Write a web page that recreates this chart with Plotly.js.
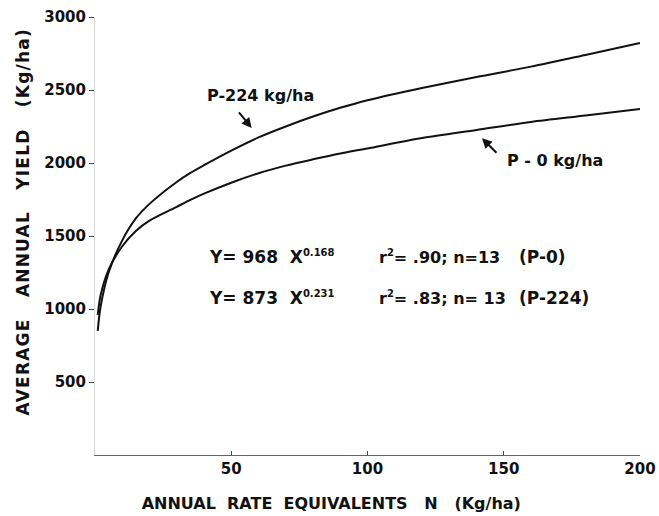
<!DOCTYPE html>
<html>
<head>
<meta charset="utf-8">
<script src="https://cdn.plot.ly/plotly-3.0.1.min.js"></script>
<style>
html,body{margin:0;padding:0;background:#fff;}
#chart{width:659px;height:516px;}
.g-ytitle text{letter-spacing:1.2px;}
</style>
</head>
<body>
<div id="chart"></div>
<script>
// N rate (kg/ha)
const nRate = [1, 2, 5, 10, 15, 20, 30, 35, 40, 50, 60, 70, 80, 90, 100, 120, 140, 160, 180, 200];
// Yield, P-0 kg/ha
const yieldP0 = [960, 1090, 1270, 1430, 1535, 1605, 1700, 1747, 1790, 1865, 1930, 1982, 2025, 2065, 2100, 2171, 2226, 2281, 2325, 2370];
// Yield, P-224 kg/ha
const yieldP224 = [850, 1010, 1250, 1470, 1620, 1720, 1870, 1932, 1985, 2085, 2175, 2250, 2318, 2378, 2430, 2514, 2589, 2660, 2740, 2822];

const xTicks = [50, 100, 150, 200];
const yTicks = [500, 1000, 1500, 2000, 2500, 3000];

const font = "'DejaVu Sans', 'Liberation Sans', Arial, sans-serif";
const ink = '#111';
const sp = n => '&nbsp;'.repeat(n);
const sup = t => '<sup><span style="font-size:10px">' + t + '</span></sup>';

const traces = [
  {x: nRate, y: yieldP224, mode: 'lines', name: 'P-224 kg/ha', line: {color: ink, width: 2, shape: 'spline', smoothing: 0.8}, hoverinfo: 'skip'},
  {x: nRate, y: yieldP0, mode: 'lines', name: 'P-0 kg/ha', line: {color: ink, width: 2, shape: 'spline', smoothing: 0.8}, hoverinfo: 'skip'}
];

const lf = {family: font, size: 16, color: ink, weight: 'bold'};
const ef = {family: font, size: 17, color: ink, weight: 'bold'};
const ef2 = {family: font, size: 16, color: ink, weight: 'bold'};

const layout = {
  width: 659, height: 516,
  margin: {l: 95, r: 19, t: 17, b: 61},
  paper_bgcolor: '#fff', plot_bgcolor: '#fff',
  showlegend: false,
  font: {family: font, color: ink},
  xaxis: {
    range: [0, 200], tickvals: xTicks, ticktext: xTicks.map(String),
    ticks: 'inside', ticklen: 4, tickcolor: '#444', tickwidth: 1,
    showline: true, linecolor: '#666', linewidth: 1,
    showgrid: false, zeroline: false,
    tickfont: {family: font, size: 15, color: ink, weight: 'bold'},
    title: {text: 'ANNUAL' + sp(2) + 'RATE' + sp(2) + 'EQUIVALENTS' + sp(3) + 'N' + sp(3) + '(Kg/ha)' + sp(13), font: {family: font, size: 16, color: ink, weight: 'bold'}, standoff: 20}
  },
  yaxis: {
    range: [0, 3000], tickvals: yTicks, ticktext: yTicks.map(String),
    ticks: 'outside', ticklen: 5, tickcolor: '#444', tickwidth: 1,
    showline: true, linecolor: '#d8d8d8', linewidth: 1,
    showgrid: false, zeroline: false,
    tickfont: {family: font, size: 15, color: ink, weight: 'bold'},
    title: {text: sp(4) + 'AVERAGE' + sp(3) + 'ANNUAL' + sp(3) + 'YIELD' + sp(3) + '(Kg/ha)', font: {family: font, size: 17, color: ink, weight: 'bold'}, standoff: 10}
  },
  annotations: [
    {x: 60.9, y: 2459, xref: 'x', yref: 'y', text: 'P-224 kg/ha', showarrow: false, font: lf},
    {x: 57.5, y: 2240, xref: 'x', yref: 'y', text: '', showarrow: true, arrowhead: 2, arrowsize: 1, arrowwidth: 2, arrowcolor: ink, ax: -14, ay: -17},
    {x: 168.8, y: 2020, xref: 'x', yref: 'y', text: 'P - 0 kg/ha', showarrow: false, font: lf},
    {x: 142, y: 2170, xref: 'x', yref: 'y', text: '', showarrow: true, arrowhead: 2, arrowsize: 1, arrowwidth: 2, arrowcolor: ink, ax: 16, ay: 16},
    {x: 41, y: 1356, xref: 'x', yref: 'y', xanchor: 'left', text: 'Y= 968  X' + sup('0.168'), showarrow: false, font: ef},
    {x: 103.5, y: 1356, xref: 'x', yref: 'y', xanchor: 'left', text: 'r' + sup('2') + '= .90; n=13', showarrow: false, font: ef2},
    {x: 155, y: 1356, xref: 'x', yref: 'y', xanchor: 'left', text: '(P-0)', showarrow: false, font: ef},
    {x: 41, y: 1075, xref: 'x', yref: 'y', xanchor: 'left', text: 'Y= 873  X' + sup('0.231'), showarrow: false, font: ef},
    {x: 103.5, y: 1075, xref: 'x', yref: 'y', xanchor: 'left', text: 'r' + sup('2') + '= .83; n= 13', showarrow: false, font: ef2},
    {x: 155, y: 1075, xref: 'x', yref: 'y', xanchor: 'left', text: '(P-224)', showarrow: false, font: ef}
  ]
};

Plotly.newPlot('chart', traces, layout, {staticPlot: true, displayModeBar: false});
</script>
</body>
</html>
